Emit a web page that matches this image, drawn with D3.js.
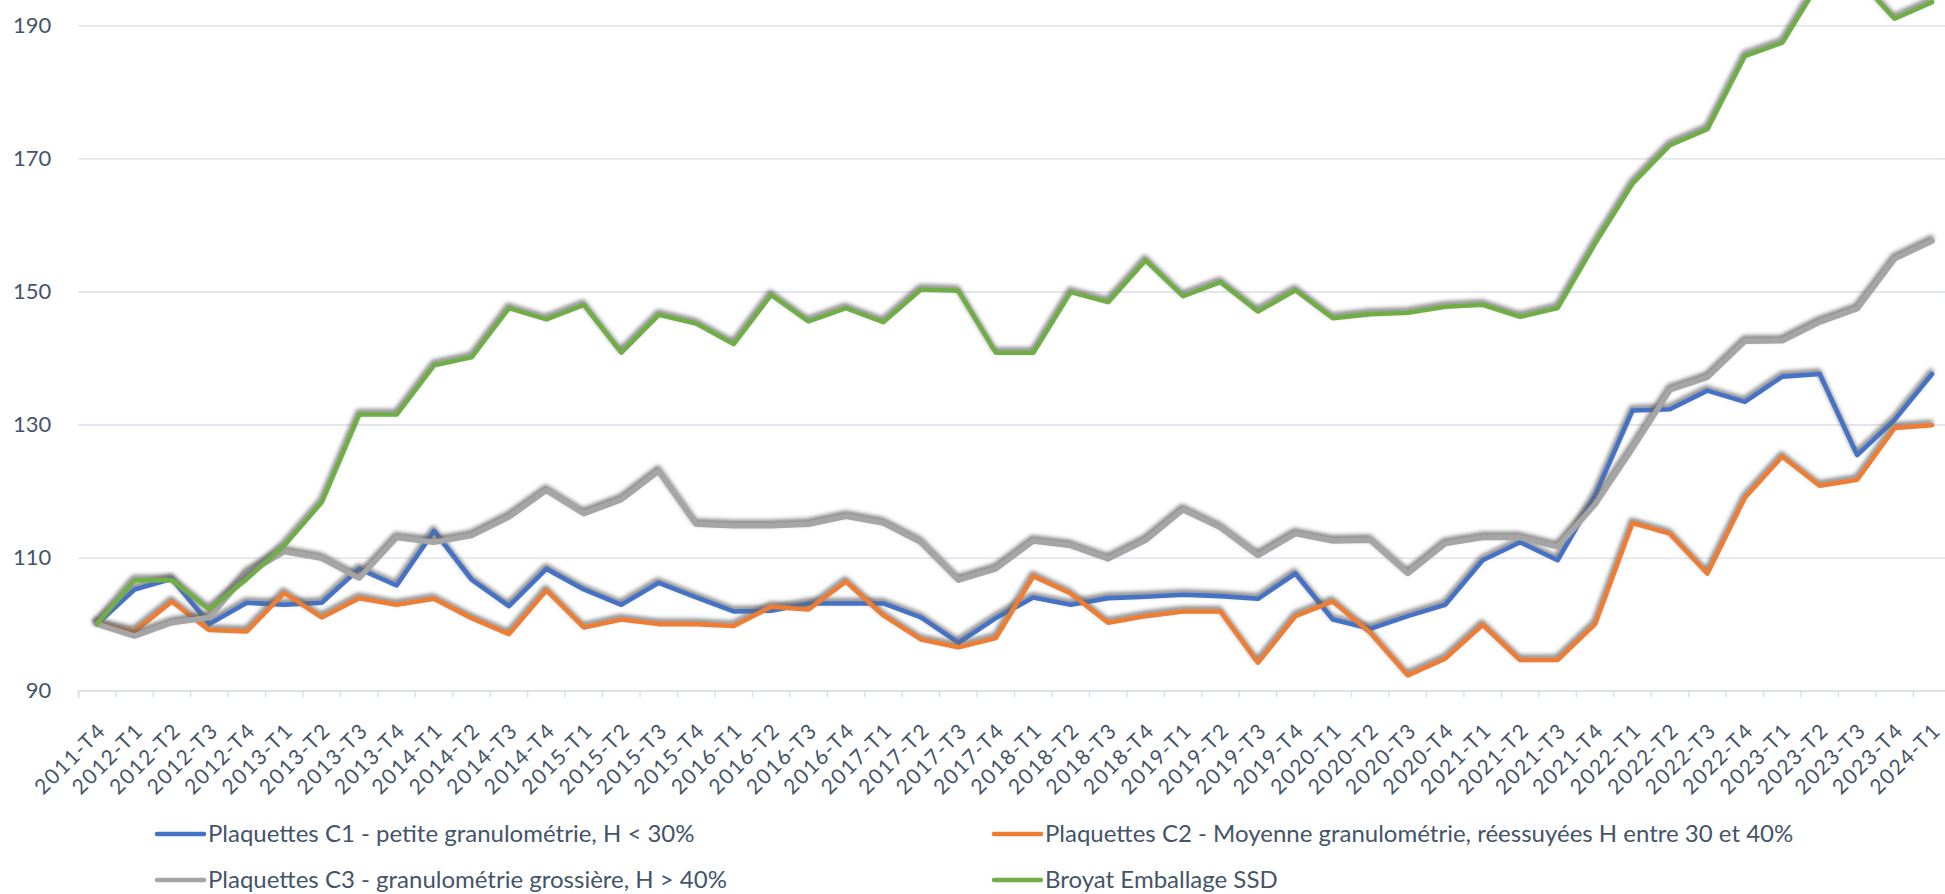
<!DOCTYPE html>
<html>
<head>
<meta charset="utf-8">
<script src="https://cdn.jsdelivr.net/npm/d3@7"></script>
<style>
  body { margin: 0; background: #fff; }
  svg { display: block; }
</style>
</head>
<body>
<div id="chart"></div>
<script>
var categories = ["2011-T4","2012-T1","2012-T2","2012-T3","2012-T4","2013-T1","2013-T2","2013-T3","2013-T4",
  "2014-T1","2014-T2","2014-T3","2014-T4","2015-T1","2015-T2","2015-T3","2015-T4",
  "2016-T1","2016-T2","2016-T3","2016-T4","2017-T1","2017-T2","2017-T3","2017-T4",
  "2018-T1","2018-T2","2018-T3","2018-T4","2019-T1","2019-T2","2019-T3","2019-T4",
  "2020-T1","2020-T2","2020-T3","2020-T4","2021-T1","2021-T2","2021-T3","2021-T4",
  "2022-T1","2022-T2","2022-T3","2022-T4","2023-T1","2023-T2","2023-T3","2023-T4","2024-T1"];

// Plaquettes C1
var c1 = [100.0,105.2,106.8,100.0,103.2,102.9,103.2,108.3,105.8,114.0,106.7,102.7,108.3,105.2,102.9,106.2,104.0,101.9,102.0,103.1,103.1,103.1,101.0,97.2,
  100.9,104.0,102.9,103.9,104.1,104.4,104.2,103.8,107.6,100.7,99.3,101.2,102.9,109.6,112.3,109.6,119.3,132.1,132.3,135.1,133.4,137.2,137.6,125.4,130.7,137.6];
// Plaquettes C2
var c2 = [100.0,98.9,103.4,99.1,98.9,104.7,101.0,103.9,102.9,103.8,100.9,98.5,105.1,99.5,100.7,100.0,100.0,99.7,102.6,102.2,106.4,101.3,97.7,96.5,
  97.9,107.2,104.6,100.2,101.2,101.9,101.9,94.2,101.2,103.4,98.7,92.3,94.8,99.9,94.6,94.6,100.0,115.2,113.6,107.6,119.0,125.2,120.8,121.7,129.5,129.9];
// Plaquettes C3
var c3 = [100.0,98.2,100.2,101.0,107.6,110.9,109.9,106.9,113.0,112.3,113.3,116.1,120.1,116.6,118.7,123.0,115.0,114.8,114.8,115.0,116.2,115.2,112.3,106.6,
  108.3,112.5,111.8,109.8,112.6,117.2,114.5,110.3,113.6,112.5,112.6,107.6,112.1,113.0,113.0,111.6,118.0,126.4,135.2,137.1,142.5,142.6,145.4,147.4,154.9,157.6];
// Broyat Emballage SSD
var broyat = [100.0,106.6,106.6,102.2,106.8,111.8,118.3,131.5,131.5,138.9,140.1,147.5,145.8,148.0,140.8,146.5,145.2,142.1,149.5,145.5,147.5,145.4,150.3,150.1,
  140.8,140.8,149.9,148.4,154.7,149.3,151.4,147.0,150.2,146.0,146.6,146.8,147.7,148.0,146.2,147.5,157.2,166.2,172.0,174.4,185.4,187.4,196.6,197.2,191.0,193.5];

var seriesNames = ["Plaquettes C1 - petite granulométrie, H < 30%",
  "Plaquettes C2 - Moyenne granulométrie, réessuyées H entre 30 et 40%",
  "Plaquettes C3 - granulométrie grossière, H > 40%",
  "Broyat Emballage SSD"];
var seriesColors = ["#4472C4", "#ED7D31", "#A5A5A5", "#70AD47"];
var yTicks = [90, 110, 130, 150, 170, 190];

var width = 1945, height = 894;
var plotLeft = 78.3, plotRight = 1950.8, plotTop = 25.4, plotBottom = 690.6;
var textColor = "#44546A", gridColor = "#D9DEE7";
var font = "Lato, 'Noto Sans', sans-serif";

var svg = d3.select("#chart").append("svg")
  .attr("width", width)
  .attr("height", height);

// soft grey shadow that Excel puts behind every line
var defs = svg.append("defs");
var shadow = defs.append("filter").attr("id", "shadow")
  .attr("x", "-5%").attr("y", "-20%").attr("width", "110%").attr("height", "140%");
shadow.append("feDropShadow")
  .attr("dx", -1).attr("dy", -2.8)
  .attr("stdDeviation", 1.9)
  .attr("flood-color", "#666666")
  .attr("flood-opacity", 0.9);

var x = d3.scaleBand().domain(categories).range([plotLeft, plotRight]);
var y = d3.scaleLinear().domain([90, 190]).range([plotBottom, plotTop]);
var bw = x.bandwidth();

// gridlines + y labels
var yAxis = svg.append("g")
  .attr("transform", "translate(" + plotLeft + ",0)")
  .call(d3.axisLeft(y).tickValues(yTicks).tickSize(-(plotRight - plotLeft)).tickPadding(27));
yAxis.select(".domain").remove();
yAxis.selectAll("line").attr("stroke", gridColor).attr("stroke-width", 1.3);
yAxis.selectAll("text")
  .attr("fill", textColor)
  .style("font-family", font)
  .style("font-size", "22px");

// x axis, ticks sit between the categories
var xAxis = svg.append("g")
  .attr("transform", "translate(0," + plotBottom + ")")
  .call(d3.axisBottom(x).tickSize(7).tickPadding(0));
xAxis.select(".domain").attr("stroke", gridColor).attr("stroke-width", 1.5);
xAxis.selectAll(".tick line")
  .attr("stroke", gridColor).attr("stroke-width", 1.3)
  .attr("x1", -bw / 2).attr("x2", -bw / 2);
xAxis.selectAll(".tick text")
  .attr("fill", textColor)
  .style("font-family", font)
  .style("font-size", "21px")
  .style("letter-spacing", "1.5px")
  .attr("text-anchor", "end")
  .attr("dy", "0.35em")
  .attr("y", 0)
  .attr("transform", "translate(5,36) rotate(-45)");

// lines
var allSeries = [c1, c2, c3, broyat];
var line = d3.line()
  .x(function(d, i) { return x(categories[i]) + bw / 2; })
  .y(function(d) { return y(d); });

svg.append("g").selectAll("path")
  .data(allSeries)
  .enter()
  .append("path")
  .attr("fill", "none")
  .attr("stroke", function(d, i) { return seriesColors[i]; })
  .attr("stroke-width", function(d, i) { return i == 2 ? 5.5 : 4.6; })
  .attr("stroke-linejoin", "round")
  .attr("stroke-linecap", "round")
  .attr("filter", "url(#shadow)")
  .attr("d", line);

// legend
var legendPos = [[157, 834], [994, 834], [157, 880], [994, 880]];
var legend = svg.append("g").selectAll("g")
  .data(seriesNames)
  .enter()
  .append("g")
  .attr("transform", function(d, i) { return "translate(" + legendPos[i][0] + "," + legendPos[i][1] + ")"; });
legend.append("line")
  .attr("x1", 0).attr("x2", 47)
  .attr("stroke", function(d, i) { return seriesColors[i]; })
  .attr("stroke-width", 4.5)
  .attr("stroke-linecap", "round");
legend.append("text")
  .attr("x", 51)
  .attr("dy", "0.35em")
  .attr("fill", textColor)
  .style("font-family", font)
  .style("font-size", "24px")
  .text(function(d) { return d; });
</script>
</body>
</html>
